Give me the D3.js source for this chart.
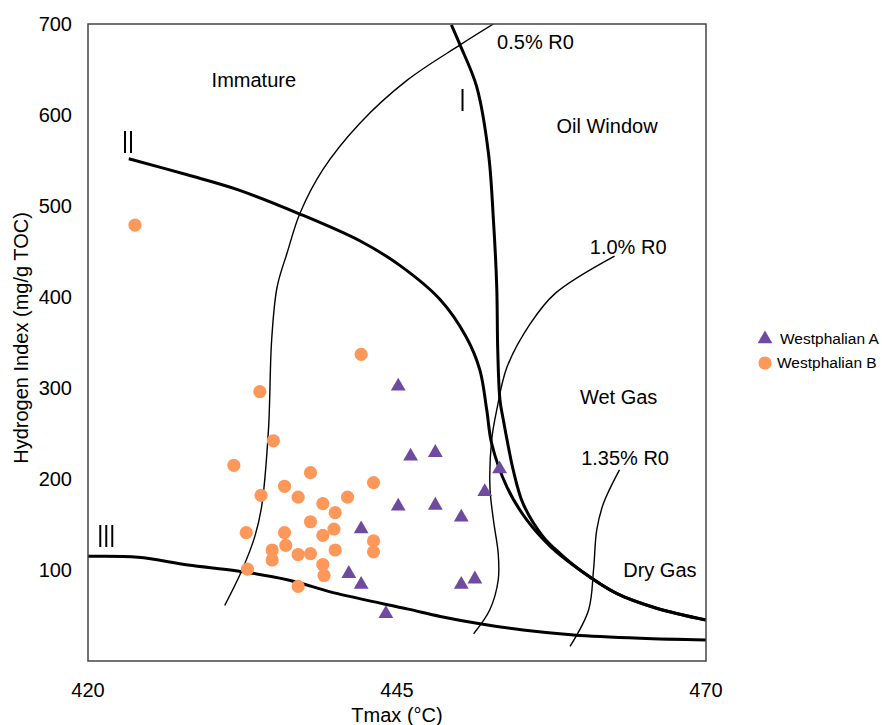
<!DOCTYPE html>
<html>
<head>
<meta charset="utf-8">
<script src="https://cdn.jsdelivr.net/npm/d3@7"></script>
<style>
  body { margin: 0; background: #fff; }
  text { font-family: "Liberation Sans", Arial, sans-serif; fill: #000; }
</style>
</head>
<body>
<div id="chart"></div>
<script>
// Westphalian A (triangles) - Tmax, HI
var westA_tmax = [445.1, 446.1, 448.1, 453.3, 452.1, 445.1, 448.1, 450.2, 442.1, 441.1, 442.1, 450.2, 451.3, 444.1];
var westA_hi   = [302, 225, 229, 211, 186, 170, 171, 158, 145, 96, 84, 84, 90, 52];

// Westphalian B (circles)
var westB_tmax = [442.1, 433.9, 435.0, 431.8, 438.0, 443.1, 435.9, 434.0, 437.0, 441.0,
                  439.0, 440.0, 438.0, 432.8, 435.9, 439.9, 439.0, 443.1, 436.0, 434.9,
                  443.1, 437.0, 438.0, 440.0, 434.9, 432.9, 439.0, 439.1, 437.0, 423.8];
var westB_hi   = [337, 296, 242, 215, 207, 196, 192, 182, 180, 180,
                  173, 163, 153, 141, 141, 145, 138, 132, 127, 122,
                  120, 117, 118, 122, 111, 101, 106, 94, 82, 479];

// kerogen type curves
var typeI = [[449.4, 699], [450.1, 677], [451.45, 631], [452.4, 558], [452.8, 485], [453.07, 411],
             [453.15, 342], [453.33, 287], [453.6, 265], [454.06, 232], [454.4, 210], [455.2, 173],
             [456.8, 137], [458.2, 118], [459.8, 100], [462.8, 74], [466.0, 58], [470, 45]];
var typeII = [[423.3, 552], [428.1, 534], [432.1, 518], [437.0, 492], [442.1, 461], [445.2, 435],
              [448.5, 397], [450.6, 356], [451.7, 320], [452.26, 276], [452.66, 239], [453.9, 191],
              [455.5, 155], [457.4, 126], [459.8, 100], [462.8, 74], [466.0, 58], [470, 45]];
var typeIII = [[420, 115], [424.05, 114], [428.1, 105.5], [432.1, 99], [436.2, 89], [440.2, 74],
               [445.9, 57], [448.5, 49], [451.7, 41], [455.2, 34], [459.3, 28.6], [464.7, 25], [470, 23]];

// vitrinite reflectance lines
var ro05 = [[431.06, 61], [432.4, 98], [433.5, 137], [434.05, 170], [434.6, 254], [434.86, 353],
            [435.3, 411], [436.1, 448], [437.15, 492], [439.0, 540], [442.0, 591], [445.8, 638],
            [450.1, 677], [452.8, 700]];
var ro10 = [[451.2, 30], [452.5, 56], [453.19, 89], [453.19, 118], [452.8, 155], [452.52, 191],
            [452.66, 243], [453.07, 276], [453.9, 323], [455.8, 371], [457.8, 404], [462.6, 445]];
var ro135 = [[459.0, 16], [460.5, 56], [460.9, 100], [461.16, 144], [461.7, 173], [463.0, 210]];

var xTicks = [420, 445, 470];
var yTicks = [100, 200, 300, 400, 500, 600, 700];

// text labels placed in data units: [text, tmax, hi]
var zoneLabels = [["Immature", 430.0, 631], ["0.5% R0", 453.1, 672], ["Oil Window", 457.9, 580],
                  ["1.0% R0", 460.6, 447], ["Wet Gas", 459.8, 282], ["1.35% R0", 459.9, 215],
                  ["Dry Gas", 463.3, 92]];
var typeLabels = [["I", 450.05, 604], ["II", 422.75, 558], ["III", 420.75, 125.6]];

var width = 882, height = 725;
var margin = {left: 88, top: 24, right: 176, bottom: 64};
var plotW = width - margin.left - margin.right;
var plotH = height - margin.top - margin.bottom;

var svg = d3.select("#chart").append("svg")
    .attr("width", width)
    .attr("height", height);

var x = d3.scaleLinear().domain([420, 470]).range([margin.left, margin.left + plotW]);
var y = d3.scaleLinear().domain([0, 700]).range([margin.top + plotH, margin.top]);

svg.append("clipPath").attr("id", "clip")
    .append("rect")
    .attr("x", margin.left).attr("y", margin.top)
    .attr("width", plotW).attr("height", plotH);

var plot = svg.append("g").attr("clip-path", "url(#clip)");

var line = d3.line()
    .x(d => x(d[0]))
    .y(d => y(d[1]))
    .curve(d3.curveCatmullRom.alpha(0.5));

// thin Ro lines
[ro05, ro10, ro135].forEach(function (pts) {
    plot.append("path")
        .attr("d", line(pts))
        .attr("fill", "none")
        .attr("stroke", "#000")
        .attr("stroke-width", 1.4);
});

// thick kerogen lines
[typeI, typeII, typeIII].forEach(function (pts) {
    plot.append("path")
        .attr("d", line(pts))
        .attr("fill", "none")
        .attr("stroke", "#000")
        .attr("stroke-width", 3);
});

// frame
svg.append("rect")
    .attr("x", margin.left).attr("y", margin.top)
    .attr("width", plotW).attr("height", plotH)
    .attr("fill", "none")
    .attr("stroke", "#444")
    .attr("stroke-width", 1.5);

// points
var dataA = westA_tmax.map((t, i) => [t, westA_hi[i]]);
var dataB = westB_tmax.map((t, i) => [t, westB_hi[i]]);

var purple = "#6f4ba0", orange = "#fe985a";
var tri = d3.symbol().type(d3.symbolTriangle).size(95);

svg.selectAll(".ptB")
    .data(dataB)
    .join("circle")
    .attr("cx", d => x(d[0]))
    .attr("cy", d => y(d[1]))
    .attr("r", 6.6)
    .attr("fill", orange);

svg.selectAll(".ptA")
    .data(dataA)
    .join("path")
    .attr("d", tri)
    .attr("transform", d => "translate(" + x(d[0]) + "," + y(d[1]) + ")")
    .attr("fill", purple);

// axis labels
svg.selectAll(".xtick")
    .data(xTicks)
    .join("text")
    .attr("x", d => x(d))
    .attr("y", margin.top + plotH + 36)
    .attr("text-anchor", "middle")
    .style("font-size", "20px")
    .text(d => d);

svg.selectAll(".ytick")
    .data(yTicks)
    .join("text")
    .attr("x", margin.left - 16)
    .attr("y", d => y(d))
    .attr("dy", "0.35em")
    .attr("text-anchor", "end")
    .style("font-size", "20px")
    .text(d => d);

svg.append("text")
    .attr("x", x(445))
    .attr("y", 722)
    .attr("text-anchor", "middle")
    .style("font-size", "20px")
    .text("Tmax (°C)");

svg.append("text")
    .attr("transform", "translate(28," + y(355) + ") rotate(-90)")
    .attr("text-anchor", "middle")
    .style("font-size", "20px")
    .text("Hydrogen Index (mg/g TOC)");

// zone + Ro labels
svg.selectAll(".zone")
    .data(zoneLabels)
    .join("text")
    .attr("x", d => x(d[1]))
    .attr("y", d => y(d[2]))
    .style("font-size", "20px")
    .text(d => d[0]);

// roman numerals, squeezed horizontally (own layer so they stay plain black)
var romans = svg.append("g").style("opacity", 0.99);
romans.selectAll(".rom")
    .data(typeLabels)
    .join("text")
    .attr("transform", d => "translate(" + x(d[1]) + "," + y(d[2]) + ") scale(0.7,1)")
    .style("font-size", "31px")
    .text(d => d[0]);

// legend
var legend = svg.append("g");
legend.append("path")
    .attr("d", tri)
    .attr("transform", "translate(765,339)")
    .attr("fill", purple);
legend.append("text")
    .attr("x", 780).attr("y", 339).attr("dy", "0.35em")
    .style("font-size", "15.5px")
    .text("Westphalian A");
legend.append("circle")
    .attr("cx", 765).attr("cy", 363)
    .attr("r", 6.6)
    .attr("fill", orange);
legend.append("text")
    .attr("x", 777).attr("y", 363).attr("dy", "0.35em")
    .style("font-size", "15.5px")
    .text("Westphalian B");
</script>
</body>
</html>
